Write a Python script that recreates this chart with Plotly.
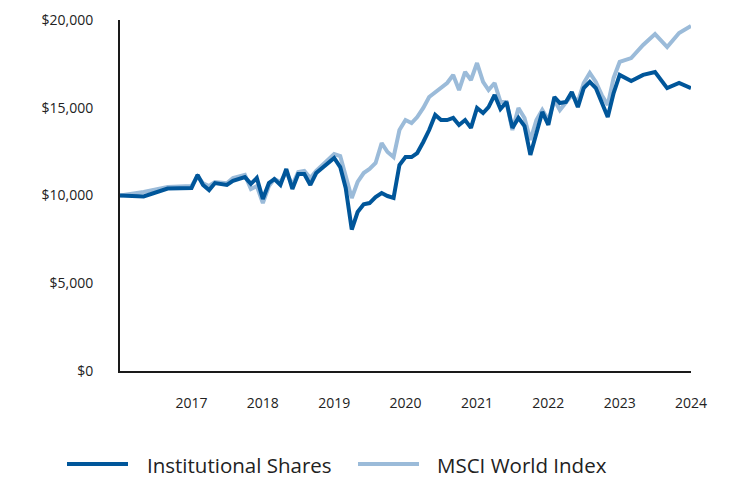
import plotly.graph_objects as go
import pandas as pd

# month offsets from Jan 2016
months = [0, 4, 8, 12, 13, 14, 15, 16, 18, 19, 21, 22, 23, 24, 25, 26, 27, 28, 29, 30,
          31, 32, 33, 34, 35, 36, 37, 38, 39, 40, 41, 42, 43, 44, 45, 46, 47, 48, 49, 50,
          51, 52, 53, 54, 55, 56, 57, 58, 59, 60, 61, 62, 63, 64, 65, 66, 67, 68, 69, 70,
          71, 72, 73, 74, 75, 76, 77, 78, 79, 80, 81, 82, 83, 84, 86, 88, 90, 92, 94, 96]

institutional = [10000, 9950, 10400, 10430, 11170, 10600, 10310, 10710, 10600, 10830,
                 11050, 10660, 11000, 9800, 10710, 10940, 10600, 11510, 10370, 11220,
                 11220, 10600, 11280, 11570, 11850, 12140, 11620, 10430, 8060, 9060,
                 9500, 9570, 9910, 10140, 9970, 9860, 11740, 12190, 12190, 12420,
                 13050, 13730, 14590, 14300, 14300, 14420, 14020, 14300, 13850, 14990,
                 14700, 15040, 15730, 14930, 15330, 13850, 14420, 13950, 12310, 13560,
                 14760, 14020, 15610, 15270, 15330, 15900, 15040, 16120, 16470, 16120,
                 15270, 14470, 15840, 16870, 16520, 16870, 17040, 16120, 16410, 16120]

msci_world = [10000, 10200, 10480, 10540, 11100, 10700, 10540, 10770, 10700, 11000,
              11170, 10370, 10540, 9570, 10540, 10940, 10770, 11340, 10600, 11340,
              11400, 11000, 11400, 11740, 12020, 12360, 12250, 11170, 9860, 10770,
              11280, 11510, 11850, 12990, 12480, 12190, 13730, 14300, 14130, 14470,
              14990, 15610, 15900, 16120, 16410, 16870, 16010, 17040, 16580, 17550,
              16470, 16010, 16410, 15330, 15330, 13730, 14990, 14420, 13160, 14300,
              14870, 14300, 15440, 14870, 15270, 15730, 15330, 16410, 16980, 16470,
              15730, 15160, 16700, 17610, 17830, 18580, 19200, 18460, 19260, 19660]

series_names = ["Institutional Shares", "MSCI World Index"]
y_tick_vals = [0, 5000, 10000, 15000, 20000]
y_tick_text = ["$0", "$5,000", "$10,000", "$15,000", "$20,000"]
x_tick_years = [2017, 2018, 2019, 2020, 2021, 2022, 2023, 2024]

dates = [pd.Timestamp("2016-01-01") + pd.DateOffset(months=m) for m in months]

DARK = "#00569A"
LIGHT = "#9BBBD9"

fig = go.Figure()
fig.add_trace(go.Scatter(x=dates, y=msci_world, mode="lines", name=series_names[1],
                         line=dict(color=LIGHT, width=4), showlegend=False))
fig.add_trace(go.Scatter(x=dates, y=institutional, mode="lines", name=series_names[0],
                         line=dict(color=DARK, width=4), showlegend=False))

font_family = "Open Sans, Noto Sans, sans-serif"

fig.update_layout(
    width=724, height=471,
    margin=dict(l=112, r=41, t=12, b=108, autoexpand=False),
    paper_bgcolor="white", plot_bgcolor="white",
    font=dict(family=font_family, color="#222222", size=14),
    xaxis=dict(
        range=[pd.Timestamp("2016-01-01"), pd.Timestamp("2024-01-01")],
        tickvals=[pd.Timestamp(f"{y}-01-01") for y in x_tick_years],
        ticktext=[str(y) for y in x_tick_years],
        showgrid=False, zeroline=False, automargin=False,
        showline=True, linecolor="#1a1a1a", linewidth=2,
        ticks="", ticklabelstandoff=18,
        tickfont=dict(size=14, color="#222222"),
    ),
    yaxis=dict(
        range=[0, 20000],
        tickvals=y_tick_vals, ticktext=y_tick_text,
        showgrid=False, zeroline=False, automargin=False,
        showline=True, linecolor="#1a1a1a", linewidth=2,
        ticks="", ticklabelstandoff=22,
        tickfont=dict(size=14, color="#222222"),
    ),
)

# legend drawn at bottom (pixel positions relative to the reference plot area)
def px_x(px):
    return (px - 120) / 571.0

def px_y(py):
    return (371 - py) / 351.0

legend_items = [(series_names[0], DARK, 67, 128, 145), (series_names[1], LIGHT, 358, 419, 435)]
for name, color, x0, x1, xt in legend_items:
    fig.add_shape(type="line", xref="paper", yref="paper",
                  x0=px_x(x0), x1=px_x(x1), y0=px_y(464), y1=px_y(464),
                  line=dict(color=color, width=4))
    fig.add_annotation(xref="paper", yref="paper", x=px_x(xt), y=px_y(465),
                       text=name, showarrow=False, xanchor="left", yanchor="middle",
                       font=dict(size=20.5, color="#222222", family=font_family))

fig.write_html("out.html")
